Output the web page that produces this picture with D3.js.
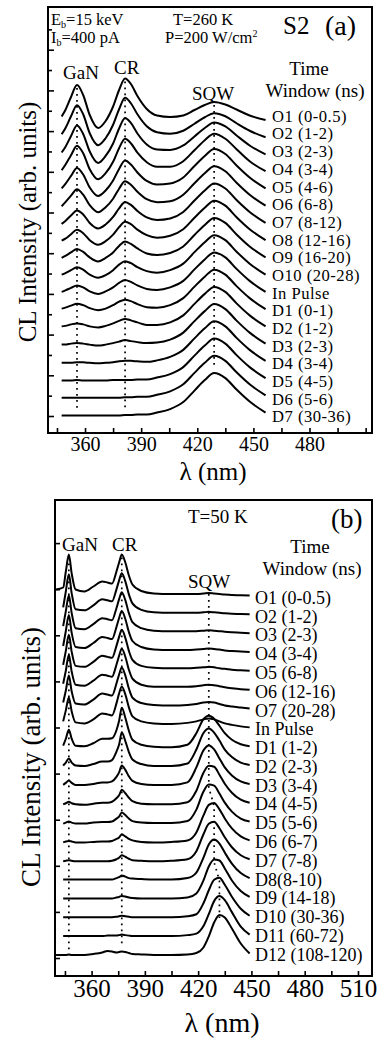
<!DOCTYPE html>
<html><head><meta charset="utf-8">
<script src="https://cdn.jsdelivr.net/npm/d3@7"></script>
<style>
body{margin:0;background:#fff;}
svg{display:block;}
text{font-family:"Liberation Serif","Times New Roman",serif;fill:#000;}
</style></head><body>
<svg id="chart" width="380" height="1038"></svg>
<script>
// ---------------- Panel (a) data : T = 260 K ----------------
const wavelengthsA = [347.5, 349.5, 352.5, 355.7, 359, 362.5, 367, 371, 375, 378.2, 381.4, 384.5, 388, 393, 398.5, 405.5, 412.5, 418.5, 424, 429, 435, 441, 448, 456.5];
const labelsA = ["O1 (0-0.5)","O2 (1-2)","O3 (2-3)","O4 (3-4)","O5 (4-6)","O6 (6-8)","O7 (8-12)","O8 (12-16)","O9 (16-20)","O10 (20-28)","In Pulse","D1 (0-1)","D2 (1-2)","D3 (2-3)","D4 (3-4)","D5 (4-5)","D6 (5-6)","D7 (30-36)"];
const spectraA = [
 [3.5, 10, 23, 35, 25, 5, -8, -1, 13.5, 30, 41.5, 36, 24, 11, 4.5, 3, 4.5, 10, 15, 18, 15.5, 10.5, 4.5, 0],
 [3, 9, 21, 32, 23, 4, -8, -1, 12.5, 28, 39.5, 34, 23, 11, 5, 3.5, 6.5, 13.5, 20, 24, 21, 14, 6.5, 0],
 [2, 7.5, 18.5, 29, 20.5, 3, -8.5, -1.5, 11, 26, 36.5, 31.5, 21, 10, 5, 4.5, 9, 18, 26.5, 32, 28, 19, 9, 0],
 [1.5, 7, 16.5, 26, 18.5, 2.5, -7.5, -1.5, 10, 23.5, 33, 28.5, 19, 9.5, 5, 5, 10.5, 21.5, 31.5, 38, 33, 22.5, 10.5, 0.5],
 [0.5, 5, 13, 21, 14.5, 1.5, -7, -1.5, 8.5, 20, 28.5, 24.5, 16.5, 8, 4.5, 5.5, 11.5, 23, 33, 40, 35, 23.5, 11.5, 0.5],
 [0, 4, 10.5, 17, 11.5, 1, -6, -1, 7.5, 17.5, 25, 21.5, 14.5, 7, 4, 5, 11.5, 23, 33, 40, 35, 23.5, 11.5, 0.5],
 [-0.5, 2.5, 8, 13, 9, 0.5, -5, -1, 6.5, 15, 21.5, 18.5, 12.5, 6, 3.5, 5, 11.5, 23, 33, 40, 35, 23.5, 11.5, 0.5],
 [0, 2, 6.5, 11, 7.5, 0.5, -4, -0.5, 6, 13.5, 19, 16.5, 11, 5.5, 3, 5, 11.5, 23, 33, 40, 35, 23.5, 11.5, 0.5],
 [0, 2, 5.5, 9, 6, 0.5, -3.5, 0, 5.5, 12, 16.5, 14, 9.5, 4.5, 3, 5, 11.5, 23, 33, 40, 35, 23.5, 11.5, 0.5],
 [0.5, 2, 5, 8, 5.5, 0.5, -2.5, 0, 5, 10.5, 14, 12, 8, 4, 2.5, 5, 11.5, 23, 33, 40, 35, 23.5, 11.5, 0.5],
 [0.5, 2, 4.5, 7, 5, 1, -1.5, 1, 5, 9.5, 12.5, 10.5, 7, 3.5, 2.5, 5, 11.5, 23, 33, 40, 35, 23.5, 11.5, 0.5],
 [1, 2, 4, 6, 4.5, 1.5, -0.5, 1, 4.5, 8, 10, 8.5, 5.5, 2.5, 2, 4.5, 11.5, 23, 33, 40, 35, 23.5, 11.5, 0.5],
 [0.5, 1, 2.5, 3.5, 2.5, 0.5, -0.5, 1, 3.5, 6, 8, 6.5, 4.5, 2, 2, 4.5, 11.5, 23, 33, 40, 35, 23.5, 11.5, 0.5],
 [-0.5, -0.5, 0.5, 1, 0.5, -0.5, -1.5, -0.5, 1, 2.5, 4, 3, 2, 1, 1.5, 4.5, 11.5, 23, 33, 40, 35, 23.5, 11.5, 0.5],
 [-1.5, -1.5, -1.5, -1, -1, -1.5, -2, -1.5, -1, 0, 0.5, 0.5, 0, -0.5, 1, 4.5, 11.5, 23, 33, 40, 35, 23.5, 11.5, 0.5],
 [-2, -2, -2, -1.5, -2, -2, -2, -2, -1.5, -1.5, -1.5, -1.5, -1, -1, 1, 4.5, 11.5, 23, 33, 40, 35, 23.5, 11.5, 0.5],
 [-2, -2, -2, -2, -2, -2, -2, -2, -2, -2, -1.5, -1.5, -1, -1, 1, 4.5, 11.5, 23, 33, 40, 35, 23.5, 11.5, 0.5],
 [-2.5, -2.5, -2.5, -2.5, -2.5, -2.5, -2.5, -2.5, -2.5, -2.5, -2, -2, -1.5, -1.5, 0.5, 4, 11, 22.5, 33, 40, 35, 23.5, 11.5, 0.5]
];
const peakLinesA = [355.7, 381.4, 429];
const xTicksA = [345, 360, 375, 390, 405, 420, 435, 450, 465, 480, 495, 510];
const xLabelsA = [360, 390, 420, 450, 480];

// ---------------- Panel (b) data : T = 50 K ----------------
const wavelengthsB = [340, 344, 345.5, 347.2, 348.8, 351, 356, 361, 366, 369, 371.5, 374, 375.5, 377, 379, 381, 383, 388, 395, 405, 414, 419, 423, 426, 429, 432, 435, 439, 444, 449];
const labelsB = ["O1 (0-0.5)","O2 (1-2)","O3 (2-3)","O4 (3-4)","O5 (6-8)","O6 (12-16)","O7 (20-28)","In Pulse","D1 (1-2)","D2 (2-3)","D3 (3-4)","D4 (4-5)","D5 (5-6)","D6 (6-7)","D7 (7-8)","D8(8-10)","D9 (14-18)","D10 (30-36)","D11 (60-72)","D12 (108-120)"];
const spectraB = [
 [6, 8, 24, 41, 22, 6, 4, 9, 14, 13, 12, 24, 33, 41, 33, 20, 11, 4.5, 2, 1.5, 1.5, 1.5, 2, 2.5, 2, 1.5, 1, 0.5, 0.3, 0],
 [null, 7, 23, 40, 21, 5, 4, 9, 15, 14, 13, 25, 34, 41, 33, 20, 11, 4.5, 2, 1.5, 1.5, 1.5, 2, 2.5, 2, 1.5, 1, 0.5, 0.3, 0],
 [null, 7, 22, 38, 20, 5, 4, 9, 15, 14, 13, 25, 34, 41, 33, 20, 11, 5, 2.5, 2, 2, 2, 2.5, 3, 2.5, 2, 1.5, 1, 0.5, 0],
 [null, 6, 21, 37, 19, 5, 4, 9, 15, 14, 13, 25, 34, 41, 33, 20, 11, 5, 2.5, 2, 2, 2.5, 3, 3.5, 3, 2.5, 1.5, 1, 0.5, 0],
 [null, 6, 20, 36, 19, 5, 4, 9, 15, 14, 13, 25, 34, 41, 33, 20, 11, 5, 3, 2.5, 2.5, 3, 3.5, 4, 3.5, 2.5, 2, 1, 0.5, 0],
 [null, 6, 19, 35, 18, 5, 4, 9, 15, 14, 13, 25, 34, 41, 33, 20, 11, 5, 3, 3, 3, 3.5, 4.5, 5, 4.5, 3.5, 2.5, 1.5, 0.5, 0],
 [null, 6, 18, 33, 17, 5, 4, 9, 15, 14, 13, 25, 34, 41, 33, 20, 11, 5.5, 3.5, 3, 3.5, 4.5, 6, 6.5, 6, 4.5, 3, 2, 1, 0],
 [null, 6, 17, 30, 16, 5, 4, 8, 14, 13, 12, 24, 34, 41, 33, 20, 11, 6, 4, 3.5, 4.5, 6, 8, 9, 8, 6, 4, 2.5, 1, 0],
 [null, 0.5, 7.5, 16.5, 7.5, 0.5, 0, 3, 7.5, 7.5, 8, 16, 25.5, 38.5, 28.5, 15.5, 6.5, 1.5, -0.5, -1, 1.5, 13, 27, 30.5, 27.5, 20.5, 13, 6.5, 2, 0],
 [null, -0.5, 2.5, 6.5, 2.5, -0.5, -1, 1, 3.5, 3.5, 5, 13.5, 20.5, 32.5, 24, 13, 5.5, 1, -1, -1, 1.5, 15.5, 32, 36.5, 32.5, 24.5, 15.5, 8, 2.5, 0],
 [null, -1, 1, 3.5, 1, -1, -1, 0, 1.5, 1.5, 2.5, 7, 11.5, 18.5, 14, 7.5, 3, 0, -1, -1, 1.5, 16.5, 33.5, 38.5, 34.5, 25.5, 16.5, 8.5, 2.5, 0],
 [null, -1.5, -0.5, 1, -0.5, -1.5, -2, -1, 0, 0, 1, 4.5, 7.5, 13, 9.5, 5, 1.5, -1, -1.5, -1.5, 0.5, 12, 30, 37, 36, 28, 19, 10, 3, 0],
 [null, -2, -1, 0, -1, -2, -2, -1, -0.5, -0.5, 0, 3, 5, 9, 6.5, 3, 0.5, -1, -1.5, -1.5, 0.5, 12, 30, 37, 36, 28, 19, 10, 3, 0],
 [null, -2, -1, -0.5, -1, -2, -2, -1.5, -1, -1, -0.5, 1.5, 3, 6, 4, 1.5, 0, -1.5, -2, -1.5, 0, 8, 25, 35.5, 37.5, 31, 22, 12, 4, 0],
 [null, -2, -1.5, -1, -1.5, -2, -2, -2, -2, -2, -1.5, 0, 1.5, 4, 2.5, 0.5, -1, -1.5, -2, -1.5, 0, 8, 25, 35.5, 37.5, 31, 22, 12, 4, 0],
 [null, -1.5, -1.5, -1.5, -1.5, -1.5, -1.5, -1.5, -1.5, -1.5, -1.5, 0, 1, 2.5, 1.5, 0, -0.5, -1, -1.5, -1.5, 0, 5.5, 20.5, 33.5, 38.5, 34.5, 25.5, 14.5, 5, 0],
 [null, -1.5, -1.5, -1.5, -1.5, -1.5, -1.5, -1.5, -1.5, -1.5, -1.5, -0.5, 0, 1, 0.5, -0.5, -1, -1.5, -1.5, -1.5, -0.5, 3.5, 16.5, 30.5, 37.5, 36.5, 28.5, 16.5, 6, 0],
 [null, -1.5, -1.5, -1.5, -1.5, -1.5, -1.5, -1.5, -1.5, -1.5, -1.5, -1, -0.5, 0, -0.5, -1, -1.5, -1.5, -1.5, -1.5, -0.5, 1.5, 12.5, 25.5, 36, 38, 31, 19, 7, 0],
 [null, -1.5, -1.5, -1.5, -1.5, -1.5, -1.5, -1.5, -1.5, -1, -1, -1, -0.5, 0, -0.5, -1, -1.5, -1.5, -1.5, -1.5, -0.5, 1, 8.5, 20.5, 33.5, 38.5, 34.5, 22.5, 8, 0],
 [-1.5, -1.5, -1.5, -1, -1.5, -1.5, -1.5, -0.5, 1, 2.5, 2, 1, 1.5, 2, 1.5, 0.5, -0.5, -1, -1.5, -1.5, -1, 0.5, 6, 17, 31, 38.5, 36, 25, 10, 0]
];
const peakLinesB = [347.2, 377];
const xTicksB = [345, 360, 375, 390, 405, 420, 435, 450, 465, 480, 495, 510];
const xLabelsB = [360, 390, 420, 450, 480, 510];

// ---------------- drawing ----------------
const svg = d3.select("#chart");

function drawPanel(c) {
  const x = d3.scaleLinear().domain(c.xDomain).range([c.left, c.right]);
  const y = d3.scaleLinear().domain([0, c.bottom - c.top]).range([c.bottom, c.top]);
  const g = svg.append("g");
  const offsets = c.spectra.map((s, i) => c.offset0 - i * c.step);
  const line = d3.line().defined(d => d[1] != null)
      .x(d => x(d[0])).y(d => y(d[1])).curve(d3.curveMonotoneX);

  // dotted peak markers
  const dot = (pts) => g.append("path").attr("d", d3.line().x(d => x(d[0])).y(d => y(d[1]))(pts))
      .attr("fill", "none").attr("stroke", "#000").attr("stroke-width", 1.7)
      .attr("stroke-dasharray", "1.7,4.3");
  c.peakLines.forEach(w => {
    const k = d3.minIndex(c.wl, v => Math.abs(v - w));
    const last = c.spectra.length - 1;
    dot([[w, offsets[0] + c.spectra[0][k] - 3], [w, offsets[last] + c.spectra[last][k] + 4]]);
  });
  if (c.sqwTrack) {
    const pts = [];
    const k0 = d3.minIndex(c.wl, v => Math.abs(v - 426));
    pts.push([c.wl[k0], offsets[0] + c.spectra[0][k0] - 1]);
    c.spectra.forEach((s, i) => {
      if (i < c.sqwTrack) return;
      const ks = d3.range(20, s.length);
      const km = ks[d3.maxIndex(ks, k => s[k])];
      pts.push([c.wl[km], offsets[i] + s[km] - 3]);
    });
    dot(pts);
  }

  // spectra
  const n = c.labels.length - 1;
  c.spectra.forEach((s, i) => {
    const pts = c.wl.map((w, k) => [w, s[k] == null ? null : offsets[i] + s[k]]);
    g.append("path").attr("d", line(pts)).attr("fill", "none")
      .attr("stroke", "#000").attr("stroke-width", 2).attr("stroke-linejoin", "round");
    g.append("text").attr("x", c.labelX)
      .attr("y", y(offsets[i]) + c.labelDy0 + (c.labelDy1 - c.labelDy0) * i / n)
      .attr("dy", "0.35em").attr("font-size", c.labelFont)
      .attr("letter-spacing", c.labelSpacing).text(c.labels[i]);
  });

  // frame
  g.append("rect").attr("x", c.left).attr("y", c.top)
    .attr("width", c.right - c.left).attr("height", c.bottom - c.top)
    .attr("fill", "none").attr("stroke", "#000").attr("stroke-width", 2);

  // bottom axis (ticks inward)
  const ax = g.append("g").attr("transform", `translate(0,${c.bottom})`)
    .call(d3.axisBottom(x).tickValues(c.xTicks).tickSize(-5).tickPadding(c.tickPad)
      .tickFormat(d => c.xLabels.includes(d) ? d : ""));
  ax.select(".domain").remove();
  ax.selectAll("line").attr("stroke", "#000").attr("stroke-width", 1.6);
  ax.selectAll("text").attr("font-family", "Liberation Serif").attr("font-size", c.tickFont).attr("fill", "#000");

  // left axis ticks (no labels)
  const ay = g.append("g").attr("transform", `translate(${c.left},0)`)
    .call(d3.axisLeft(y).tickValues(c.yTicks).tickSize(-5).tickFormat(""));
  ay.select(".domain").remove();
  ay.selectAll("line").attr("stroke", "#000").attr("stroke-width", 1.6)
    .attr("x2", (d, i) => c.altTicks ? (i % 2 === 0 ? 6 : 4) : 5);

  // axis titles
  g.append("text").attr("transform", `translate(${c.yTitleX},${c.yTitleY}) rotate(-90)`)
    .attr("text-anchor", "middle").attr("font-size", c.yTitleFont).text("CL Intensity (arb. units)");
  g.append("text").attr("x", c.xTitleX).attr("y", c.xTitleY).attr("text-anchor", "middle")
    .attr("font-size", c.xTitleFont).text("λ (nm)");
  return g;
}

const gA = drawPanel({
  left: 48, right: 372, top: 7, bottom: 433, xDomain: [340.2, 513.4],
  wl: wavelengthsA, spectra: spectraA, labels: labelsA, labelFont: 16.6, labelSpacing: 0.5,
  offset0: 313, step: 17.24, labelX: 272, labelDy0: -4, labelDy1: 3.5,
  peakLines: peakLinesA, sqwTrack: 0,
  xTicks: xTicksA, xLabels: xLabelsA, tickPad: 4, tickFont: 20,
  yTicks: d3.range(0, 20).map(k => 17 + 20.35 * k), altTicks: true,
  yTitleX: 36, yTitleY: 222, yTitleFont: 25,
  xTitleX: 213, xTitleY: 480, xTitleFont: 25
});
const gB = drawPanel({
  left: 55, right: 372, top: 500, bottom: 976, xDomain: [339.4, 517.9],
  wl: wavelengthsB, spectra: spectraB, labels: labelsB, labelFont: 18, labelSpacing: 0,
  offset0: 380.5, step: 18.84, labelX: 255, labelDy0: 2, labelDy1: 1,
  peakLines: peakLinesB, sqwTrack: 8,
  xTicks: xTicksB, xLabels: xLabelsB, tickPad: 3, tickFont: 25,
  yTicks: d3.range(0, 10).map(k => 18 + 46.1 * k), altTicks: false,
  yTitleX: 40, yTitleY: 757, yTitleFont: 27,
  xTitleX: 222, xTitleY: 1032, xTitleFont: 28
});

// annotations panel (a)
const tA = (x, y, s, txt, anchor) => svg.append("text").attr("x", x).attr("y", y)
  .attr("font-size", s).attr("text-anchor", anchor || "start").text(txt);
let t = svg.append("text").attr("x", 51).attr("y", 25).attr("font-size", 16.5);
t.append("tspan").text("E");
t.append("tspan").attr("font-size", 10).attr("dy", 2.5).text("b");
t.append("tspan").attr("dy", -2.5).text("=15 keV");
t = svg.append("text").attr("x", 51).attr("y", 43).attr("font-size", 16.5);
t.append("tspan").text("I");
t.append("tspan").attr("font-size", 10).attr("dy", 2.5).text("b");
t.append("tspan").attr("dy", -2.5).text("=400 pA");
tA(173, 25, 16.5, "T=260 K");
t = svg.append("text").attr("x", 165).attr("y", 43).attr("font-size", 16.5);
t.append("tspan").text("P=200 W/cm");
t.append("tspan").attr("font-size", 10).attr("dy", -6).text("2");
tA(283, 34, 25, "S2");
tA(325, 35, 28, "(a)");
tA(63, 79, 19, "GaN");
tA(114, 74, 19, "CR");
tA(192, 100, 19, "SQW");
tA(309, 75, 19, "Time", "middle");
tA(315, 97, 19, "Window (ns)", "middle");

// annotations panel (b)
tA(188, 523, 19, "T=50 K");
tA(331, 528, 27, "(b)");
tA(62, 551, 19, "GaN");
tA(112, 551, 19, "CR");
tA(310, 553, 19, "Time", "middle");
tA(312, 575, 19, "Window (ns)", "middle");
tA(188, 588, 19, "SQW");
</script>
</body></html>
